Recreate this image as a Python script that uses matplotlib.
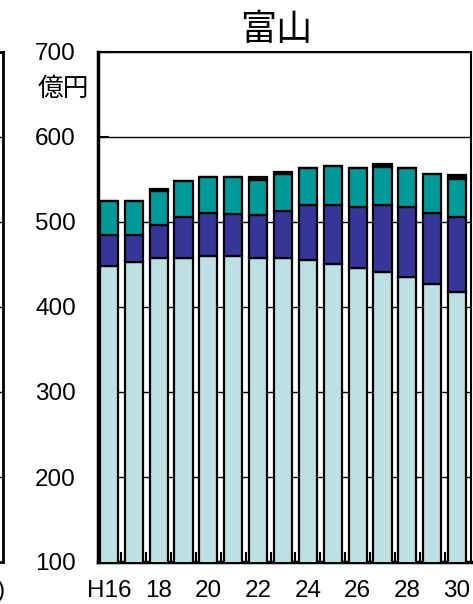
import numpy as np
import matplotlib
matplotlib.use("Agg")
import matplotlib.pyplot as plt

plt.rcParams['font.family'] = ['Liberation Sans', 'Noto Sans CJK JP', 'DejaVu Sans']

# fiscal years H16..H30
years = ["H16", "17", "18", "19", "20", "21", "22", "23",
         "24", "25", "26", "27", "28", "29", "30"]
# stacked segments, 億円
light = [448, 453, 458, 458, 460, 460, 458, 458, 455, 451, 446, 441, 435, 427, 418]
blue = [37, 32, 39, 48, 51, 49, 50, 55, 65, 69, 72, 79, 83, 84, 88]
teal = [40, 40, 39, 42, 42, 44, 41, 43, 44, 46, 46, 45, 46, 46, 45]
black = [0, 0, 3, 0, 0, 0, 4, 3, 0, 0, 0, 3, 0, 0, 4]

colors = ["#BDE0E3", "#363699", "#009999", "#000000"]

fig = plt.figure(figsize=(4.73, 6.04), dpi=100)
W, H = 473, 604
ax = fig.add_axes([98 / W, 1 - 562 / H, (471 - 98) / W, (562 - 52) / H])

x = np.arange(len(years))
bottom = np.zeros(len(years))
for seg, c in zip([light, blue, teal, black], colors):
    ax.bar(x, seg, bottom=bottom, width=0.73, color=c,
           edgecolor="black", linewidth=1.6, zorder=3)
    bottom += np.array(seg)

ax.set_ylim(100, 700)
ax.set_xlim(-0.44, 14.56)
ax.set_yticks(range(100, 701, 100))
ax.grid(axis="y", color="black", linewidth=1, zorder=0)
ax.set_axisbelow(True)

ax.set_xticks(x[::2])
ax.set_xticklabels([years[i] for i in range(0, len(years), 2)])
ax.set_xticks(x[1:] - 0.5, minor=True)
ax.tick_params(axis="x", which="major", length=0, pad=13, labelsize=17.5)
ax.tick_params(axis="x", which="minor", direction="in", length=7, width=1.5)
ax.tick_params(axis="y", direction="in", length=8, width=1.5, pad=16, labelsize=17.5)

for s in ["left", "bottom"]:
    ax.spines[s].set_linewidth(2.5)
for s in ["top", "right"]:
    ax.spines[s].set_linewidth(1.5)

fig.text(276 / W, 1 - 30 / H, "富山", fontsize=26, ha="center", va="center",
         family=["Noto Sans CJK JP"])
fig.text(63 / W, 1 - 89 / H, "億円", fontsize=18.5, ha="center", va="center",
         family=["Noto Sans CJK JP"])

# edge of neighbouring chart on the left
nb = fig.add_axes([-0.3, 1 - 562 / H, 0.3 + 3 / W, (562 - 52) / H])
nb.set_ylim(100, 700)
nb.set_xticks([])
nb.set_yticks(range(200, 701, 100))
nb.tick_params(axis="y", length=0, labelleft=False)
nb.grid(axis="y", color="black", linewidth=1)
for s in nb.spines.values():
    s.set_linewidth(2)
fig.text(5 / W, 1 - 591 / H, "30)", fontsize=17.5, ha="right", va="center")

fig.savefig("out.png", dpi=100)
